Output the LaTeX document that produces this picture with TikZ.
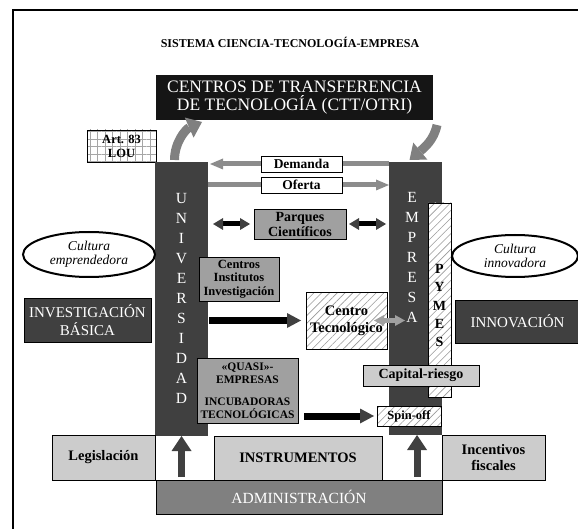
\documentclass[tikz,border=0pt]{standalone}
\usepackage{fontspec}
\setmainfont{Liberation Serif}
\usetikzlibrary{arrows.meta,shapes.geometric,patterns.meta,backgrounds}

\definecolor{colDark}{HTML}{404040}
\definecolor{boxMid}{HTML}{A0A0A0}
\definecolor{boxLight}{HTML}{CCCCCC}
\definecolor{admGray}{HTML}{808080}
\definecolor{flowGray}{HTML}{8C8C8C}
\definecolor{linkGray}{HTML}{A0A0A0}
\definecolor{hatchGray}{HTML}{9A9A9A}
\definecolor{cttBlack}{HTML}{151515}

\begin{document}
\begin{tikzpicture}[x=1pt,y=-1pt,
  every node/.style={inner sep=0pt, outer sep=0pt},
  box/.style={draw=black, line width=0.8pt, align=center,
    font=\bfseries\fontsize{13.5}{15}\selectfont},
  darkbox/.style={draw=black, line width=0.8pt, fill=colDark, text=white, align=center,
    font=\fontsize{15}{18}\selectfont},
  column/.style={fill=colDark},
  hatched/.style={preaction={fill=white},
    pattern={Lines[angle=45,distance=5.5pt,line width=0.6pt]}, pattern color=hatchGray},
  culture/.style={draw=black, line width=2pt, ellipse, align=center,
    font=\itshape\fontsize{13.5}{14}\selectfont},
  letters/.style={text=white, align=center},
  flowarrow/.style={line width=5pt, flowGray,
    -{Triangle[length=13pt,width=11pt,line width=0pt]}},
  bigarrow/.style={line width=7pt, black,
    -{Triangle[length=14pt,width=15pt,line width=0pt,color=colDark]}},
  twoway/.style={line width=5pt, black,
    {Triangle[length=10pt,width=12pt,line width=0pt,color=colDark]}-{Triangle[length=10pt,width=12pt,line width=0pt,color=colDark]}},
  lighttwoway/.style={line width=5pt, linkGray,
    {Triangle[length=10pt,width=11pt,line width=0pt]}-{Triangle[length=10pt,width=11pt,line width=0pt]}},
  uparrow/.style={line width=7pt, colDark,
    -{Triangle[length=15pt,width=20pt,line width=0pt]}},
  bentarrow/.style={line width=9pt, admGray,
    -{Triangle[length=14pt,width=22pt,line width=0pt]}},
]
\useasboundingbox (0,0) rectangle (578,529);

% outer frame (left and top rules)
\draw[line width=2pt] (13,529) -- (13,10) -- (578,10);

% title
\node[font=\bfseries\fontsize{12}{14}\selectfont] (title) at (290,42)
  {SISTEMA CIENCIA-TECNOLOGÍA-EMPRESA};

% transfer centres
\node[fill=cttBlack, text=white, align=center, minimum width=277pt, minimum height=45pt,
  font=\fontsize{17.5}{18}\selectfont] (ctt) at (294.5,97.5)
  {CENTROS DE TRANSFERENCIA\\DE TECNOLOGÍA (CTT/OTRI)};

% Art. 83 LOU (grid-filled box)
\node[draw=black, line width=0.6pt, preaction={fill=white},
  pattern={Hatch[angle=0,distance=7.5pt,line width=0.5pt]}, pattern color=gray!70,
  align=center, font=\bfseries\fontsize{12.5}{14}\selectfont,
  minimum width=69pt, minimum height=32pt] (art) at (121.5,146) {Art. 83\\LOU};

% main columns
\node[column, minimum width=53pt, minimum height=274pt] (univ) at (181.5,299) {};
\node[column, minimum width=53pt, minimum height=273pt] (emp) at (415.5,298.5) {};
\node[hatched, draw=black, line width=0.6pt, minimum width=23pt, minimum height=194pt]
  (pymes) at (439.5,300) {};

\node[letters, font=\fontsize{15.5}{20}\selectfont] (univtxt) at (181.5,298)
  {U\\N\\I\\V\\E\\R\\S\\I\\D\\A\\D};
\node[letters, font=\fontsize{15.5}{20}\selectfont] (emptxt) at (412,257)
  {E\\M\\P\\R\\E\\S\\A};
\node[align=center, font=\bfseries\fontsize{14}{18.25}\selectfont] (pymestxt) at (439.5,305.5)
  {P\\Y\\M\\E\\S};

% bent arrows to and from the transfer centres
\draw[bentarrow] ([xshift=-7pt,yshift=2pt]univ.north)
  .. controls (174.5,142) and (186,129) .. ([shift={(46pt,-2pt)}]ctt.south west);
\draw[bentarrow] ([shift={(4pt,-5pt)}]ctt.south east)
  .. controls (434,140) and (424,148) .. ([shift={(-6pt,2pt)}]emp.north);

% demand / supply flows, the arrows pass behind their labels
\node[box, fill=white, minimum width=81pt, minimum height=16pt] (dem) at (301.5,164) {Demanda};
\node[box, fill=white, minimum width=81pt, minimum height=16pt] (ofe) at (301.5,185) {Oferta};
\begin{scope}[on background layer]
  \draw[flowarrow] (emp.west |- dem.center) -- ([xshift=2pt]univ.east |- dem.center);
  \draw[flowarrow] (univ.east |- ofe.center) -- (emp.west |- ofe.center);
\end{scope}

% science parks
\node[box, fill=boxMid, minimum width=92pt, minimum height=30pt,
  font=\bfseries\fontsize{14}{15}\selectfont] (parq) at (300,224)
  {Parques\\Científicos};
\draw[twoway] ([xshift=5pt]univ.east |- parq.center) -- ([xshift=-4pt]parq.west);
\draw[twoway] ([xshift=3pt]parq.east) -- ([xshift=-3pt]emp.west |- parq.center);

% research centres
\node[box, fill=boxMid, minimum width=80pt, minimum height=44pt,
  font=\bfseries\fontsize{12.5}{13.5}\selectfont] (cent) at (239,279)
  {Centros\\Institutos\\Investigación};

% technology centre
\node[box, hatched, minimum width=81pt, minimum height=57pt,
  font=\bfseries\fontsize{14.5}{17}\selectfont] (ctec) at (346.5,320.5)
  {Centro\\Tecnológico};
\draw[bigarrow] ([xshift=1pt]univ.east |- ctec.center) -- ([xshift=-5pt]ctec.west);
\draw[lighttwoway] ([xshift=-13pt]ctec.east) -- ([xshift=16pt]emp.west |- ctec.center);

% quasi-companies and incubators
\node[box, fill=boxMid, minimum width=101pt, minimum height=65pt,
  font=\bfseries\fontsize{11.5}{13}\selectfont] (quasi) at (247.5,390.5)
  {«QUASI»-\\EMPRESAS\\[9pt]INCUBADORAS\\TECNOLÓGICAS};

% venture capital and spin-off
\node[box, fill=boxLight, minimum width=116pt, minimum height=21pt,
  font=\bfseries\fontsize{14}{15}\selectfont] (cap) at (421,375.5) {Capital-riesgo};
\node[box, hatched, minimum width=64pt, minimum height=20pt,
  font=\bfseries\fontsize{12.5}{13}\selectfont] (spin) at (409,416) {Spin-off};
\draw[bigarrow] ([xshift=6pt]quasi.east |- spin.center) -- ([xshift=-3pt]spin.west);

% cultures and research / innovation
\node[culture, minimum width=132pt, minimum height=45pt] (cemp) at (89,254.5)
  {Cultura\\emprendedora};
\node[culture, minimum width=126pt, minimum height=42pt] (cinn) at (515,256)
  {Cultura\\innovadora};
\node[darkbox, minimum width=127pt, minimum height=44pt] (inv) at (87.5,320)
  {INVESTIGACIÓN\\BÁSICA};
\node[darkbox, minimum width=125pt, minimum height=43pt] (innov) at (517.5,321.5)
  {INNOVACIÓN};

% administration layer
\node[box, fill=boxLight, minimum width=103pt, minimum height=45pt,
  font=\bfseries\fontsize{14.5}{16}\selectfont] (leg) at (103.5,457.5) {Legislación};
\node[box, fill=boxLight, minimum width=168pt, minimum height=44pt,
  font=\bfseries\fontsize{14.5}{16}\selectfont] (instr) at (298,458) {INSTRUMENTOS};
\node[box, fill=boxLight, minimum width=103pt, minimum height=45pt,
  font=\bfseries\fontsize{14.5}{16}\selectfont] (incent) at (493.5,457.5) {Incentivos\\fiscales};
\node[draw=black, line width=0.8pt, fill=admGray, text=white, minimum width=286pt,
  minimum height=34pt, font=\fontsize{15.5}{18}\selectfont] (adm) at (299,497)
  {ADMINISTRACIÓN};

\draw[uparrow] ([yshift=-41pt]univ.south) -- (univ.south);
\draw[uparrow] ([xshift=1.5pt,yshift=-41.5pt]emp.south) -- ([xshift=1.5pt]emp.south);
\end{tikzpicture}
\end{document}
